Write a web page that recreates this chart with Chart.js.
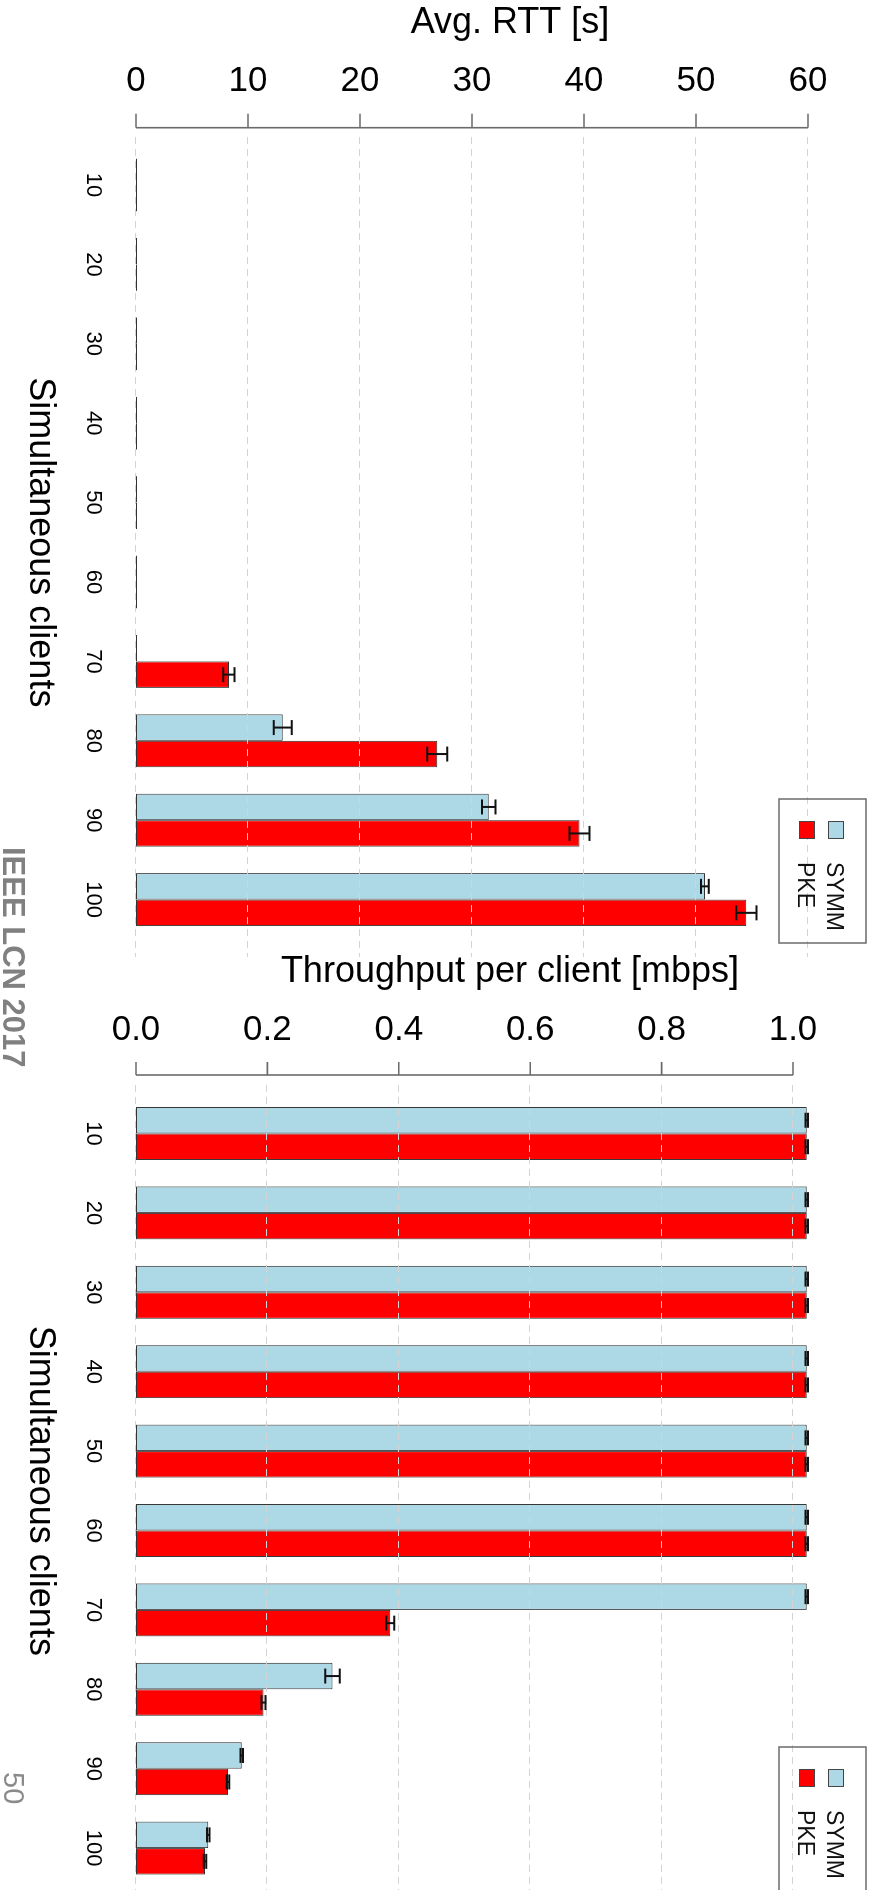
<!DOCTYPE html>
<html>
<head>
<meta charset="utf-8">
<title>Avg. RTT and throughput per client</title>
<script src="https://cdn.jsdelivr.net/npm/chart.js@4.4.0/dist/chart.umd.min.js"></script>
<style>
  html, body { margin: 0; padding: 0; background: #fff; overflow: hidden; }
  body { width: 872px; height: 1890px; position: relative; }
  /* the figure is laid out landscape and turned a quarter clockwise */
  #page {
    position: absolute; left: 0; top: 0; width: 1890px; height: 872px;
    transform-origin: 0 0; transform: translate(872px, 0) rotate(90deg);
  }
  #page canvas { position: absolute; top: -30px; }
  #rtt { left: 0; }
  #tput { left: 950px; }
  .venue {
    position: absolute; left: 847px; top: 843px; white-space: nowrap;
    font: bold 31px/31px 'Liberation Sans', Arial, sans-serif; color: #808080;
  }
  .pageno {
    position: absolute; left: 1772px; top: 844px;
    font: 29px/29px 'Liberation Sans', Arial, sans-serif; color: #8a8a8a;
  }
</style>
</head>
<body>
<div id="page">
  <canvas id="rtt" width="960" height="902"></canvas>
  <canvas id="tput" width="960" height="902"></canvas>
  <div class="venue">IEEE LCN 2017</div>
  <div class="pageno">50</div>
</div>
<script>
const CLIENTS = ['10', '20', '30', '40', '50', '60', '70', '80', '90', '100'];

// average round-trip time [s]
const RTT_SYMM     = [0.08, 0.08, 0.08, 0.08, 0.08, 0.08, 0.08, 13.1, 31.5, 50.8];
const RTT_SYMM_ERR = [0, 0, 0, 0, 0, 0, 0, 0.8, 0.6, 0.35];
const RTT_PKE      = [0.08, 0.08, 0.08, 0.08, 0.08, 0.08, 8.3, 26.9, 39.6, 54.5];
const RTT_PKE_ERR  = [0, 0, 0, 0, 0, 0, 0.5, 0.9, 0.9, 0.9];
const RTT_TICKS    = [0, 10, 20, 30, 40, 50, 60];

// throughput per client [mbps]
const TPUT_SYMM     = [1.021, 1.021, 1.021, 1.021, 1.021, 1.021, 1.021, 0.299, 0.161, 0.110];
const TPUT_SYMM_ERR = [0.002, 0.002, 0.002, 0.002, 0.002, 0.002, 0.002, 0.011, 0.002, 0.002];
const TPUT_PKE      = [1.021, 1.021, 1.021, 1.021, 1.021, 1.021, 0.387, 0.194, 0.140, 0.105];
const TPUT_PKE_ERR  = [0.002, 0.002, 0.002, 0.002, 0.002, 0.002, 0.006, 0.003, 0.002, 0.002];
const TPUT_TICKS    = [0, 0.2, 0.4, 0.6, 0.8, 1.0];

const SYMM_COLOR = '#add8e6';
const PKE_COLOR = '#ff0000';

Chart.defaults.font.family = "'Liberation Sans', Arial, sans-serif";
Chart.defaults.color = '#000';

// R-style frame: dotted grid over the bars, error bars, detached value axis, boxed key
const rFrame = {
  id: 'rFrame',
  afterDatasetsDraw(chart, args, o) {
    const ctx = chart.ctx;
    const y = chart.scales.y;
    const vals = y.ticks.map(t => t.value);
    ctx.save();

    ctx.strokeStyle = '#d3d3d3';
    ctx.lineWidth = 1.2;
    ctx.setLineDash([7, 5]);
    vals.forEach(v => {
      const py = Math.round(y.getPixelForValue(v)) + 0.5;
      ctx.beginPath();
      ctx.moveTo(o.gridFrom, py);
      ctx.lineTo(o.gridTo, py);
      ctx.stroke();
    });
    ctx.setLineDash([]);

    ctx.strokeStyle = '#111';
    ctx.lineWidth = 2;
    chart.data.datasets.forEach((ds, di) => {
      chart.getDatasetMeta(di).data.forEach((bar, i) => {
        const e = ds.errors[i];
        if (!e) return;
        const lo = y.getPixelForValue(ds.data[i] - e);
        const hi = y.getPixelForValue(ds.data[i] + e);
        const x = bar.x;
        ctx.beginPath();
        ctx.moveTo(x, lo); ctx.lineTo(x, hi);
        ctx.moveTo(x - o.cap, lo); ctx.lineTo(x + o.cap, lo);
        ctx.moveTo(x - o.cap, hi); ctx.lineTo(x + o.cap, hi);
        ctx.stroke();
      });
    });

    ctx.strokeStyle = '#6b6b6b';
    ctx.lineWidth = 1.6;
    ctx.beginPath();
    ctx.moveTo(o.axisX, y.getPixelForValue(vals[0]));
    ctx.lineTo(o.axisX, y.getPixelForValue(vals[vals.length - 1]));
    vals.forEach(v => {
      const py = y.getPixelForValue(v);
      ctx.moveTo(o.axisX - o.tickLen, py);
      ctx.lineTo(o.axisX, py);
    });
    ctx.stroke();
    ctx.restore();
  },
  afterDraw(chart, args, o) {
    const ctx = chart.ctx;
    const k = o.key;
    ctx.save();
    ctx.strokeStyle = '#6b6b6b';
    ctx.lineWidth = 1.5;
    ctx.strokeRect(k.x, k.y, k.w, k.h);
    ctx.font = "23px 'Liberation Sans', Arial, sans-serif";
    ctx.textBaseline = 'alphabetic';
    chart.data.datasets.forEach((ds, i) => {
      const sy = k.y + 22 + i * 29;
      ctx.fillStyle = ds.backgroundColor;
      ctx.fillRect(k.x + 22, sy, 18, 16);
      ctx.strokeStyle = '#444';
      ctx.lineWidth = 1;
      ctx.strokeRect(k.x + 22.5, sy + 0.5, 17, 15);
      ctx.fillStyle = '#111';
      ctx.fillText(ds.label, k.x + 63, sy + 17);
    });
    ctx.restore();
  }
};

function barChart(id, o) {
  return new Chart(document.getElementById(id), {
    type: 'bar',
    data: {
      labels: CLIENTS,
      datasets: [
        { label: 'SYMM', data: o.symm, errors: o.symmErr, backgroundColor: SYMM_COLOR },
        { label: 'PKE', data: o.pke, errors: o.pkeErr, backgroundColor: PKE_COLOR }
      ]
    },
    options: {
      responsive: false,
      animation: false,
      events: [],
      layout: { padding: { left: 0, top: 18, right: o.padRight, bottom: 0 } },
      datasets: {
        bar: {
          borderColor: '#333',
          borderWidth: 1,
          borderSkipped: false,
          categoryPercentage: 0.667,
          barPercentage: 1
        }
      },
      plugins: {
        legend: { display: false },
        tooltip: { enabled: false },
        rFrame: o.frame
      },
      scales: {
        x: {
          grid: { display: false, drawTicks: false },
          border: { display: false },
          ticks: { font: { size: 22 }, padding: 30, maxRotation: 0, autoSkip: false },
          title: {
            display: true,
            text: 'Simultaneous clients',
            font: { size: 36 },
            padding: { top: 0, bottom: 18 }
          },
          afterFit(s) { s.height = 136; s.paddingLeft = 0; s.paddingRight = 0; }
        },
        y: {
          min: 0,
          max: o.max,
          grid: { display: false, drawTicks: false },
          border: { display: false },
          afterBuildTicks(s) { s.ticks = o.ticks.map(v => ({ value: v })); },
          ticks: {
            font: { size: 35 },
            minRotation: 90,
            maxRotation: 90,
            crossAlign: 'center',
            padding: o.tickPad,
            autoSkip: false,
            callback: o.fmt
          },
          title: {
            display: true,
            text: o.title,
            font: { size: 36 },
            padding: { top: o.titlePad, bottom: 0 }
          },
          afterFit(s) { s.width = o.axisWidth; s.paddingTop = 0; s.paddingBottom = 0; }
        }
      }
    },
    plugins: [rFrame]
  });
}

barChart('rtt', {
  symm: RTT_SYMM, symmErr: RTT_SYMM_ERR,
  pke: RTT_PKE, pkeErr: RTT_PKE_ERR,
  ticks: RTT_TICKS, max: 66.79,
  fmt: v => String(v),
  title: 'Avg. RTT [s]',
  axisWidth: 145.3, padRight: 20.7, tickPad: 44.1, titlePad: 1,
  frame: {
    axisX: 127.7, tickLen: 14, gridFrom: 137, gridTo: 957, cap: 7.5,
    key: { x: 799, y: 36, w: 144, h: 87 }
  }
});

barChart('tput', {
  symm: TPUT_SYMM, symmErr: TPUT_SYMM_ERR,
  pke: TPUT_PKE, pkeErr: TPUT_PKE_ERR,
  ticks: TPUT_TICKS, max: 1.1385,
  fmt: v => v.toFixed(1),
  title: 'Throughput per client [mbps]',
  axisWidth: 143.8, padRight: 22.2, tickPad: 39.5, titlePad: 0,
  frame: {
    axisX: 125, tickLen: 13, gridFrom: 135, gridTo: 941, cap: 7.5,
    key: { x: 797, y: 36, w: 144, h: 87 }
  }
});
</script>
</body>
</html>
